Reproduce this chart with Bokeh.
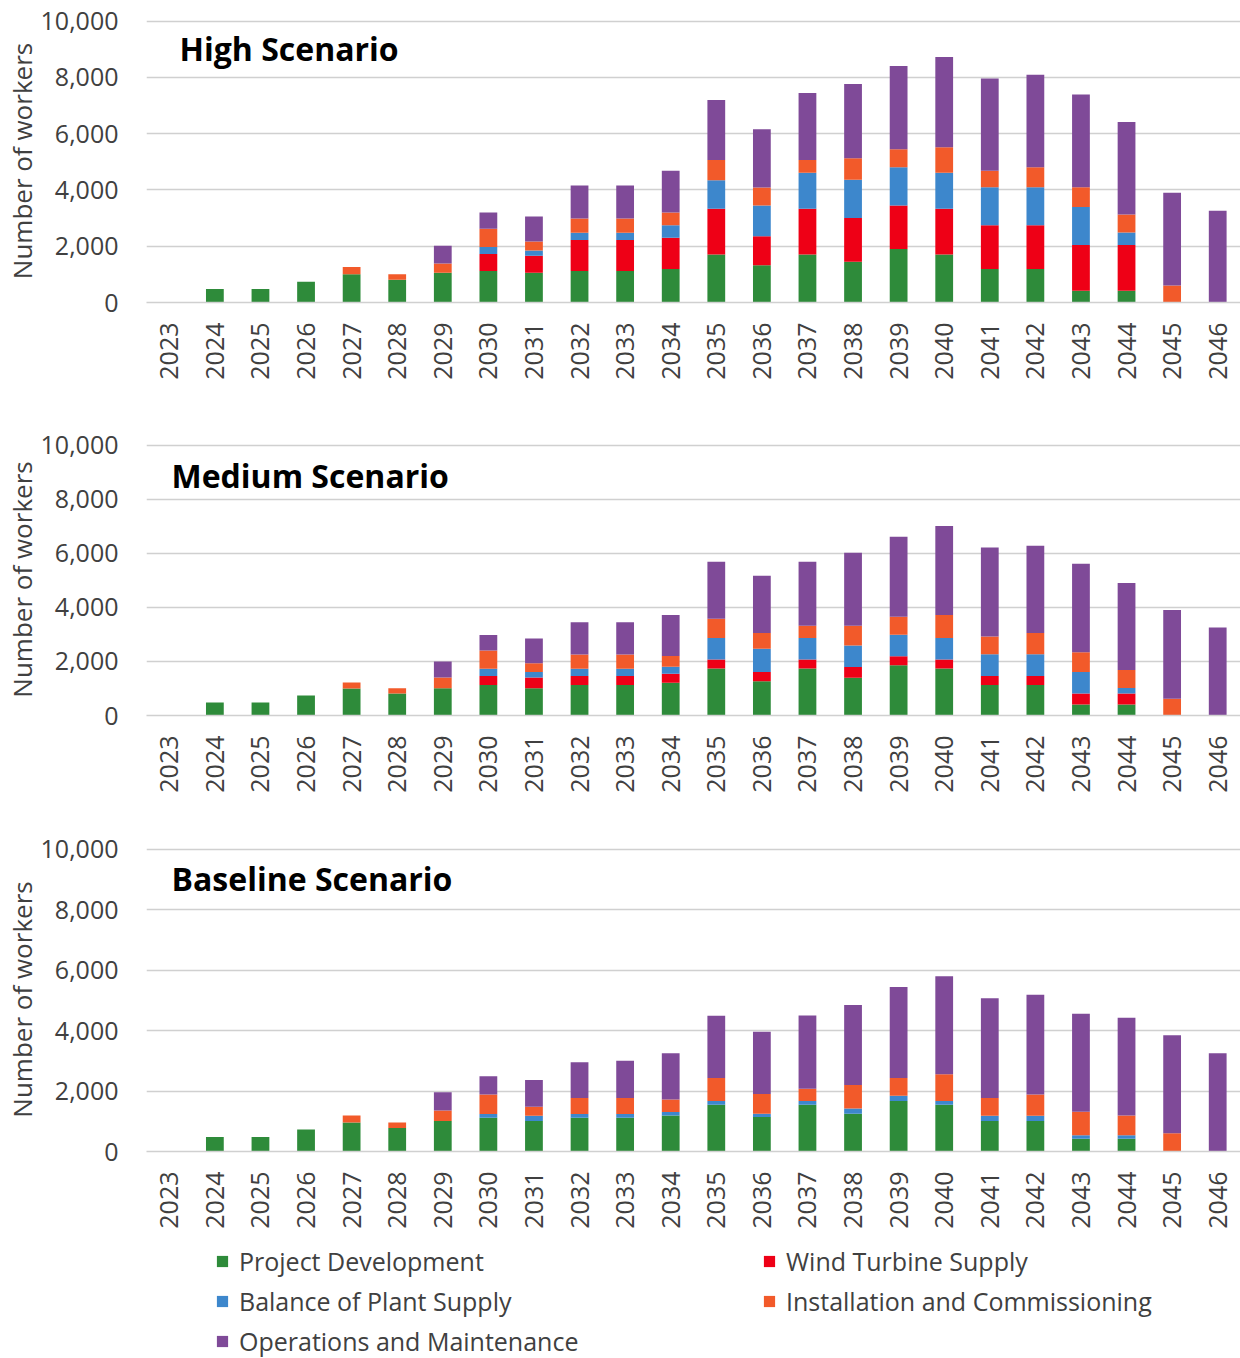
from bokeh.plotting import figure
from bokeh.layouts import column
from bokeh.models import (FactorRange, Range1d, FixedTicker, NumeralTickFormatter,
                          Label, Legend, LegendItem, ColumnDataSource)
from bokeh.embed import file_html
from bokeh.resources import INLINE
from math import pi

years = [str(y) for y in range(2023, 2047)]
series = ["Project Development", "Wind Turbine Supply", "Balance of Plant Supply",
          "Installation and Commissioning", "Operations and Maintenance"]
colors = ["#2e8b3a", "#ee0016", "#3d87cc", "#f25a2a", "#7f4a98"]

# High scenario
high_pd  = [0, 480, 480, 740, 1000, 810, 1060, 1120, 1060, 1120, 1120, 1190, 1710, 1320, 1710, 1450, 1900, 1710, 1190, 1190, 420, 420, 0, 0]
high_wts = [0, 0, 0, 0, 0, 0, 0, 600, 600, 1100, 1100, 1110, 1620, 1035, 1620, 1550, 1550, 1620, 1560, 1560, 1620, 1620, 0, 0]
high_bop = [0, 0, 0, 0, 0, 0, 0, 250, 190, 260, 260, 450, 1020, 1095, 1285, 1360, 1355, 1285, 1345, 1345, 1355, 450, 0, 0]
high_ic  = [0, 0, 0, 0, 260, 190, 330, 650, 320, 510, 510, 450, 715, 640, 450, 770, 640, 905, 585, 715, 700, 640, 600, 0]
high_om  = [0, 0, 0, 0, 0, 0, 630, 580, 890, 1170, 1170, 1480, 2130, 2070, 2380, 2640, 2960, 3210, 3285, 3285, 3295, 3285, 3300, 3260]

# Medium scenario
med_pd  = [0, 480, 480, 740, 1000, 810, 1010, 1130, 1010, 1130, 1130, 1210, 1740, 1270, 1740, 1400, 1860, 1740, 1130, 1130, 410, 410, 0, 0]
med_wts = [0, 0, 0, 0, 0, 0, 0, 330, 395, 330, 330, 335, 335, 335, 335, 395, 335, 335, 335, 335, 405, 405, 0, 0]
med_bop = [0, 0, 0, 0, 0, 0, 0, 270, 200, 270, 270, 260, 790, 860, 790, 790, 790, 790, 800, 800, 790, 200, 0, 0]
med_ic  = [0, 0, 0, 0, 220, 200, 395, 670, 330, 530, 530, 395, 715, 590, 455, 730, 665, 850, 655, 790, 730, 665, 615, 0]
med_om  = [0, 0, 0, 0, 0, 0, 590, 580, 910, 1185, 1185, 1515, 2110, 2110, 2370, 2700, 2960, 3290, 3290, 3220, 3280, 3220, 3290, 3255]

# Baseline scenario
base_pd  = [0, 480, 480, 730, 960, 780, 1010, 1120, 1010, 1120, 1120, 1190, 1550, 1140, 1550, 1250, 1670, 1550, 1010, 1010, 420, 420, 0, 0]
base_wts = [0, 0, 0, 0, 0, 0, 0, 0, 0, 0, 0, 0, 0, 0, 0, 0, 0, 0, 0, 0, 0, 0, 0, 0]
base_bop = [0, 0, 0, 0, 0, 0, 0, 120, 175, 120, 120, 120, 120, 110, 120, 175, 175, 120, 175, 175, 120, 120, 0, 0]
base_ic  = [0, 0, 0, 0, 230, 180, 350, 650, 300, 530, 530, 410, 760, 650, 410, 775, 585, 885, 585, 705, 775, 650, 600, 0]
base_om  = [0, 0, 0, 0, 0, 0, 600, 600, 885, 1180, 1235, 1535, 2065, 2065, 2420, 2650, 3015, 3245, 3300, 3300, 3245, 3235, 3245, 3255]

y_ticks = [0, 2000, 4000, 6000, 8000, 10000]
y_title = "Number of workers"

FONT = "Open Sans"
TXT = "#404040"
GRID = "#d0d0d0"
Y_END = 10060
BAR_W = 0.39


def make_panel(title, data, frame_h, top, bottom, title_x, title_dy):
    src = ColumnDataSource(dict(year=years, **{s: v for s, v in zip(series, data)}))
    p = figure(x_range=FactorRange(*years), y_range=Range1d(0, Y_END),
               frame_width=1094, frame_height=frame_h,
               min_border_left=146, min_border_right=0, min_border_top=top,
               min_border_bottom=bottom, output_backend="svg",
               toolbar_location=None, tools="")
    p.outline_line_color = None
    rs = p.vbar_stack(series, x="year", width=BAR_W, color=colors, source=src,
                      line_color=None)
    p.xgrid.grid_line_color = None
    p.ygrid.grid_line_color = GRID
    p.ygrid.grid_line_width = 1.4
    p.yaxis.ticker = FixedTicker(ticks=y_ticks)
    p.yaxis.formatter = NumeralTickFormatter(format="0,0")
    p.yaxis.axis_line_color = None
    p.yaxis.major_tick_line_color = None
    p.yaxis.minor_tick_line_color = None
    p.yaxis.major_tick_out = 0
    p.yaxis.major_tick_in = 0
    p.yaxis.minor_tick_out = 0
    p.yaxis.major_label_standoff = 28
    p.yaxis.major_label_text_font = FONT
    p.yaxis.major_label_text_font_size = "25px"
    p.yaxis.major_label_text_color = TXT
    p.yaxis.axis_label = y_title
    p.yaxis.axis_label_standoff = -2
    p.yaxis.axis_label_text_font = FONT
    p.yaxis.axis_label_text_font_size = "26px"
    p.yaxis.axis_label_text_font_style = "normal"
    p.yaxis.axis_label_text_color = TXT
    p.xaxis.axis_line_color = GRID
    p.xaxis.axis_line_width = 1.4
    p.xaxis.major_tick_line_color = None
    p.xaxis.minor_tick_line_color = None
    p.xaxis.major_tick_out = 0
    p.xaxis.major_tick_in = 0
    p.xaxis.major_label_orientation = pi / 2
    p.xaxis.major_label_standoff = 20
    p.xaxis.major_label_text_font = FONT
    p.xaxis.major_label_text_font_size = "25px"
    p.xaxis.major_label_text_color = TXT
    p.add_layout(Label(x=title_x, y=frame_h - title_dy, x_units="screen", y_units="screen",
                       text=title, text_font=FONT, text_font_size="32px",
                       text_font_style="bold", text_color="#000000",
                       text_baseline="middle"))
    return p, rs, src


p1, _, _ = make_panel("High Scenario", [high_pd, high_wts, high_bop, high_ic, high_om], 283, 19, 123, 33, 29)
p2, _, _ = make_panel("Medium Scenario", [med_pd, med_wts, med_bop, med_ic, med_om], 272, 18, 114, 25, 32)
p3, _, src3 = make_panel("Baseline Scenario", [base_pd, base_wts, base_bop, base_ic, base_om], 304, 18, 82, 25, 31)

# Legend strip: the baseline stacks are re-used only as legend keys; they get zero
# width and the strip's y-range lies far from the data, so no bar is drawn there.
pl = figure(frame_width=1240, frame_height=125, min_border=0,
            x_range=FactorRange(*years), y_range=Range1d(1e6, 1e6 + 1),
            x_axis_type=None, y_axis_type=None, output_backend="svg",
            toolbar_location=None, tools="")
pl.outline_line_color = None
pl.xgrid.grid_line_color = None
pl.ygrid.grid_line_color = None
rl = pl.vbar_stack(series, x="year", width=0, color=colors, source=src3,
                   line_color=None)
items = {s: LegendItem(label=s, renderers=[r]) for s, r in zip(series, rl)}
# column-major fill: left column then right column
order = [series[0], series[2], series[4], series[1], series[3]]
legend = Legend(items=[items[s] for s in order],
                location=(215, -3), ncols=2, orientation="vertical",
                glyph_width=14, glyph_height=14, label_standoff=10,
                label_width=523, label_height=40, spacing=0, padding=0, margin=0,
                border_line_color=None, background_fill_alpha=0,
                label_text_font=FONT, label_text_font_size="25px", label_text_color=TXT)
pl.add_layout(legend)

layout = column(p1, p2, p3, pl, spacing=0)
open("out.html", "w").write(file_html(layout, INLINE))
